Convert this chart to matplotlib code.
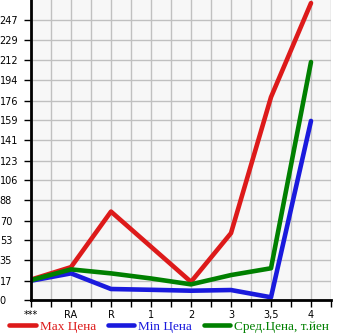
import numpy as np
import matplotlib
matplotlib.use("Agg")
import matplotlib.pyplot as plt

categories = ["***", "RA", "R", "1", "2", "3", "3,5", "4"]
max_price = [18, 29, 78, 47, 16, 59, 179, 262]
min_price = [17, 23.5, 9.7, 9, 8.2, 8.8, 2.4, 158]
avg_price = [17.5, 27, 23.5, 19, 13.8, 22, 28, 210]
y_ticks = [0, 17, 35, 53, 70, 88, 106, 123, 141, 159, 176, 194, 212, 229, 247]

fig = plt.figure(figsize=(3.45, 3.35), dpi=100)
ax = fig.add_axes([31 / 345, 35 / 335, 300 / 345, 300 / 335])
ax.set_facecolor("#f7f7f7")

x = np.arange(len(categories))
lw = 3.3
ax.plot(x, max_price, color="#dd1a1a", lw=lw, label="Max Цена", solid_capstyle="round")
ax.plot(x, min_price, color="#1a1add", lw=lw, label="Min Цена", solid_capstyle="round")
ax.plot(x, avg_price, color="#008000", lw=lw, label="Сред.Цена, т.йен", solid_capstyle="round")

ax.set_xlim(0, 7.5)
ax.set_ylim(0, 264.7)
ax.set_xticks(x)
ax.set_xticklabels(categories, fontsize=7, family="DejaVu Sans")
ax.set_xticks(np.arange(0.5, 7.6, 1), minor=True)
ax.set_yticks(y_ticks)
ax.set_yticklabels([str(v) for v in y_ticks], fontsize=7, family="DejaVu Sans", ha="left")
ax.tick_params(axis="y", which="major", length=5, width=1, pad=17.5, direction="out")
ax.tick_params(axis="x", which="both", length=5, width=1, pad=2, direction="out")

ax.grid(True, which="both", color="#c0c0c0", lw=1)
ax.set_axisbelow(True)
for s in ["top", "right"]:
    ax.spines[s].set_visible(False)
ax.spines["left"].set_linewidth(2)
ax.spines["bottom"].set_linewidth(2)

fig.legend(loc="lower center", bbox_to_anchor=(0.49, -0.028), ncol=3, frameon=False,
           prop={"family": "Liberation Serif", "size": 9.5}, handlelength=2.0,
           handletextpad=0.3, columnspacing=0.9, labelcolor="linecolor")

fig.savefig("out.png", dpi=100)
